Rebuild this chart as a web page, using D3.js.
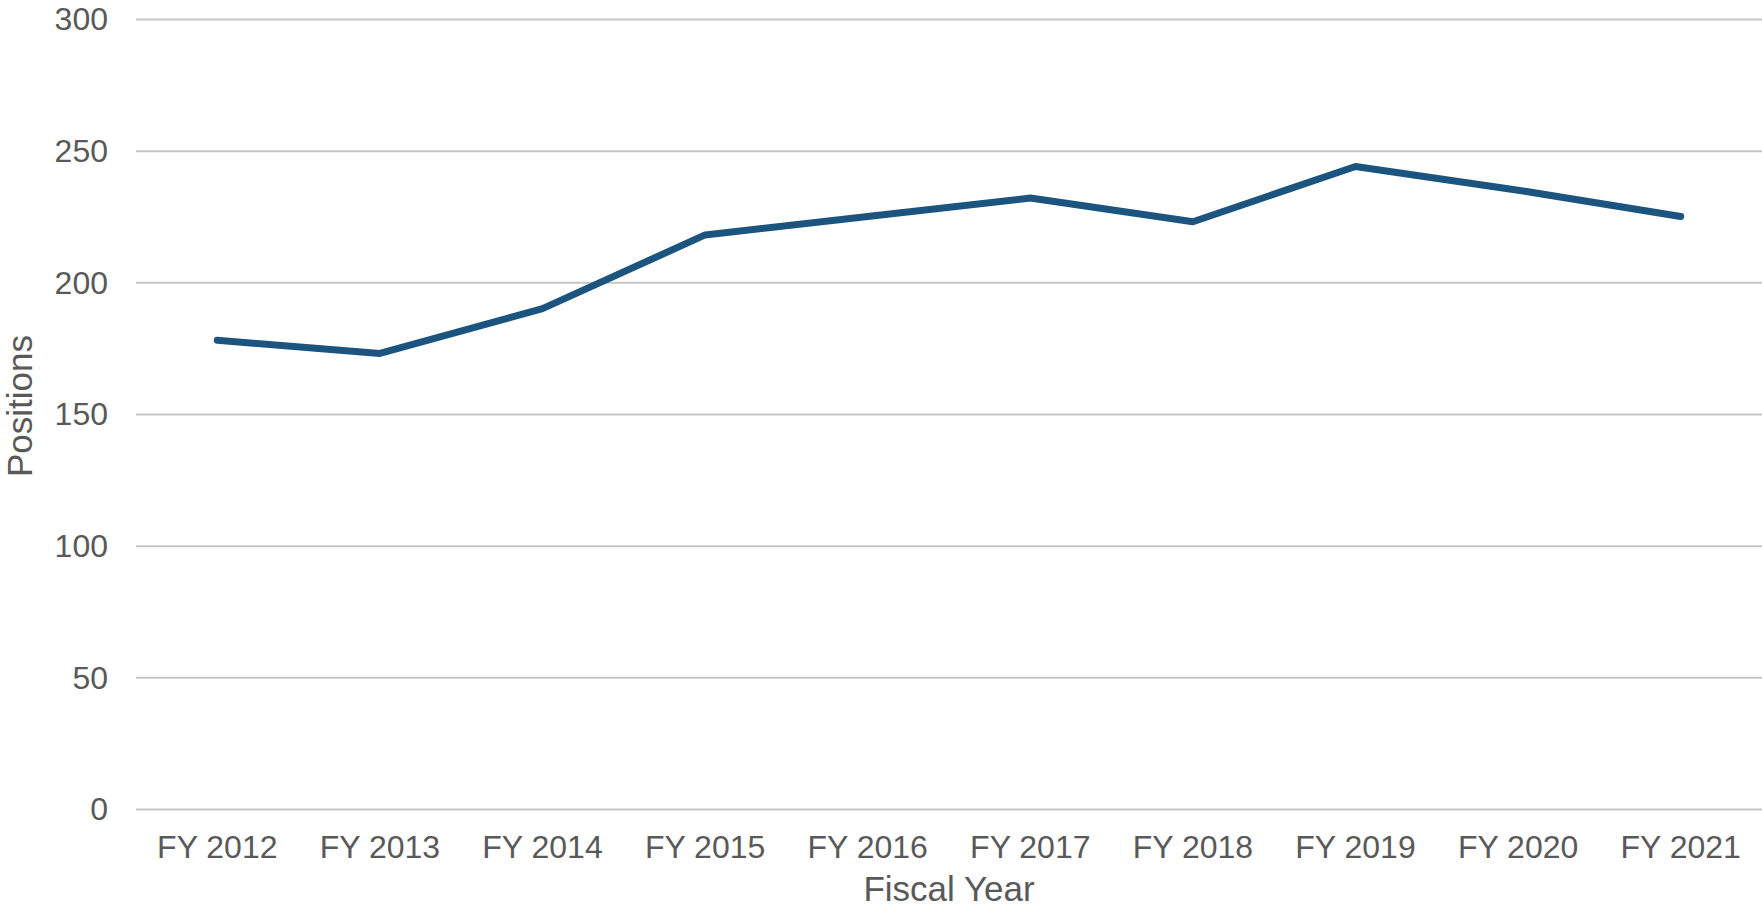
<!DOCTYPE html>
<html lang="en">
<head>
  <meta charset="utf-8">
  <title>Positions by Fiscal Year</title>
  <script src="https://cdn.jsdelivr.net/npm/d3@7"></script>
  <style>
    body { margin: 0; background: #fff; }
    text { font-family: "Liberation Sans", Arial, sans-serif; fill: #595959; }
    .grid line { stroke: #c6c6c6; stroke-width: 2; }
    .grid .domain { display: none; }
  </style>
</head>
<body>
<script>
// chart data
var years = ["FY 2012", "FY 2013", "FY 2014", "FY 2015", "FY 2016",
             "FY 2017", "FY 2018", "FY 2019", "FY 2020", "FY 2021"];
var positions = [178, 173, 190, 218, 225, 232, 223, 244, 235, 225];
var yTicks = [0, 50, 100, 150, 200, 250, 300];

var width = 1762;
var height = 909;
var margin = {top: 19, right: 0, bottom: 100, left: 136};

var svg = d3.select("body")
  .append("svg")
  .attr("width", width)
  .attr("height", height);

var x = d3.scaleBand()
  .domain(years)
  .range([margin.left, width - margin.right]);

var y = d3.scaleLinear()
  .domain([0, 300])
  .range([height - margin.bottom, margin.top]);

// horizontal gridlines
svg.append("g")
  .attr("class", "grid")
  .attr("transform", "translate(" + margin.left + ",0)")
  .call(d3.axisLeft(y).tickValues(yTicks).tickSize(-(width - margin.left - margin.right)).tickFormat(""));

// y tick labels
svg.append("g")
  .selectAll("text")
  .data(yTicks)
  .enter()
  .append("text")
  .attr("x", 108)
  .attr("y", function(d) { return y(d); })
  .attr("dy", "0.35em")
  .attr("text-anchor", "end")
  .style("font-size", "32px")
  .text(function(d) { return d; });

// x tick labels
svg.append("g")
  .selectAll("text")
  .data(years)
  .enter()
  .append("text")
  .attr("x", function(d) { return x(d) + x.bandwidth() / 2; })
  .attr("y", 858)
  .attr("text-anchor", "middle")
  .style("font-size", "32px")
  .text(function(d) { return d; });

// axis titles
svg.append("text")
  .attr("x", (margin.left + width - margin.right) / 2)
  .attr("y", 901)
  .attr("text-anchor", "middle")
  .style("font-size", "35px")
  .text("Fiscal Year");

svg.append("text")
  .attr("transform", "translate(32,406) rotate(-90)")
  .attr("text-anchor", "middle")
  .style("font-size", "35px")
  .text("Positions");

// the line
var line = d3.line()
  .x(function(d, i) { return x(years[i]) + x.bandwidth() / 2; })
  .y(function(d) { return y(d); });

svg.append("path")
  .datum(positions)
  .attr("fill", "none")
  .attr("stroke", "#1b557f")
  .attr("stroke-width", 7)
  .attr("stroke-linejoin", "round")
  .attr("stroke-linecap", "round")
  .attr("d", line);
</script>
</body>
</html>
